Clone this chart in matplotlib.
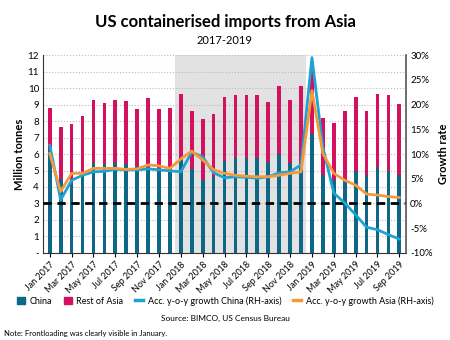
import numpy as np
import matplotlib.pyplot as plt
from matplotlib.patches import Patch
from matplotlib.lines import Line2D

plt.rcParams['font.family'] = ['Lato', 'DejaVu Sans']

months = ['Jan', 'Feb', 'Mar', 'Apr', 'May', 'Jun', 'Jul', 'Aug', 'Sep', 'Oct', 'Nov', 'Dec']
labels = [f'{m} {y}' for y in (2017, 2018, 2019) for m in months][:33]

china = [6.3, 4.5, 4.2, 4.8, 5.45, 5.4, 5.45, 5.4, 5.3, 5.2, 5.0, 5.0,
         5.75, 5.1, 4.4, 4.6, 5.6, 5.75, 5.75, 5.75, 5.5, 6.0, 5.45, 5.5,
         7.2, 4.7, 4.4, 4.4, 5.0, 4.7, 5.2, 5.0, 4.7]
rest_asia = [2.5, 3.15, 3.6, 3.5, 3.8, 3.7, 3.85, 3.8, 3.45, 4.2, 3.75, 3.8,
             3.9, 3.5, 3.75, 3.8, 3.85, 3.8, 3.85, 3.85, 3.65, 4.1, 3.85, 4.65,
             4.4, 3.5, 3.5, 4.2, 4.45, 3.9, 4.45, 4.6, 4.35]
growth_china = [11.8, 0.7, 4.7, 5.7, 6.4, 6.5, 6.9, 6.8, 6.8, 7.0, 6.8, 6.6,
                6.4, 10.4, 9.4, 6.2, 5.2, 5.4, 5.3, 5.1, 5.4, 6.2, 6.4, 7.8,
                29.5, 11.4, 2.1, 0.1, -2.3, -4.8, -5.3, -6.3, -7.2]
growth_asia = [10.1, 2.4, 6.1, 6.1, 7.1, 7.1, 7.1, 6.9, 7.0, 7.8, 7.6, 7.1,
               9.0, 10.6, 8.8, 6.8, 6.1, 5.7, 5.5, 5.4, 5.4, 5.7, 6.1, 6.4,
               22.8, 10.1, 6.1, 4.7, 3.7, 1.9, 1.7, 1.4, 1.2]

c_china = '#0f6788'
c_rest = '#d3115f'
c_gchina = '#1fa2d4'
c_gasia = '#f39a3d'

x = np.arange(len(labels))
fig = plt.figure(figsize=(4.5, 3.4), dpi=100)
ax = fig.add_axes([0.096, 0.256, 0.806, 0.582])

ax.axvspan(11.5, 23.5, color='#e2e2e2', zorder=0, lw=0)
ax.bar(x, china, width=0.34, color=c_china, zorder=2)
ax.bar(x, rest_asia, width=0.34, bottom=china, color=c_rest, zorder=2)
ax.axhline(3, color='black', lw=2, ls=(0, (3, 2)), zorder=4)

ax.set_xlim(-0.6, len(labels) - 0.4)
ax.set_ylim(0, 12)
ax.set_yticks(range(13))
ax.set_yticklabels(['-'] + [str(i) for i in range(1, 13)], fontsize=7)
ax.set_xticks(x[::2])
ax.set_xticklabels(labels[::2], rotation=45, ha='right', rotation_mode='anchor', fontsize=6.5)
ax.tick_params(axis='x', length=3, pad=2)
ax.tick_params(axis='y', length=0, pad=3)
ax.grid(axis='y', color='#bbbbbb', ls=':', lw=0.8, zorder=1)
ax.set_axisbelow(True)
ax.set_ylabel('Million tonnes', fontsize=8, fontweight='bold', labelpad=2)
for s in ('top', 'right'):
    ax.spines[s].set_visible(False)
ax.spines['left'].set_color('#333333')
ax.spines['bottom'].set_color('#333333')

ax2 = ax.twinx()
ax2.plot(x, growth_china, color=c_gchina, lw=2, zorder=3)
ax2.plot(x, growth_asia, color=c_gasia, lw=2, zorder=3)
ax2.set_ylim(-10, 30)
ax2.set_yticks(range(-10, 31, 5))
ax2.set_yticklabels([f'{v}%' for v in range(-10, 31, 5)], fontsize=7)
ax2.tick_params(axis='y', length=0, pad=3)
ax2.set_ylabel('Growth rate', fontsize=8, fontweight='bold', labelpad=4)
for s in ('top', 'left', 'bottom'):
    ax2.spines[s].set_visible(False)
ax2.spines['right'].set_color('#555555')
ax2.spines['right'].set_linewidth(1.2)

fig.text(0.5, 0.935, 'US containerised imports from Asia', ha='center', va='center',
         fontsize=12, fontweight='bold')
fig.text(0.5, 0.882, '2017-2019', ha='center', va='center', fontsize=8)

handles = [Patch(color=c_china), Patch(color=c_rest),
           Line2D([], [], color=c_gchina, lw=2.5), Line2D([], [], color=c_gasia, lw=2.5)]
names = ['China', 'Rest of Asia', 'Acc. y-o-y growth China (RH-axis)',
         'Acc. y-o-y growth Asia (RH-axis)']
fig.legend(handles, names, loc='center', bbox_to_anchor=(0.5, 0.115), ncol=4,
           frameon=False, fontsize=6.5, handlelength=0.9, handletextpad=0.5,
           columnspacing=1.3, handleheight=0.9)
fig.text(0.5, 0.062, 'Source: BIMCO, US Census Bureau', ha='center', va='center', fontsize=6)
fig.text(0.008, 0.02, 'Note: Frontloading was clearly visible in January.', ha='left',
         va='center', fontsize=5.5)

fig.savefig('out.png', dpi=100)
